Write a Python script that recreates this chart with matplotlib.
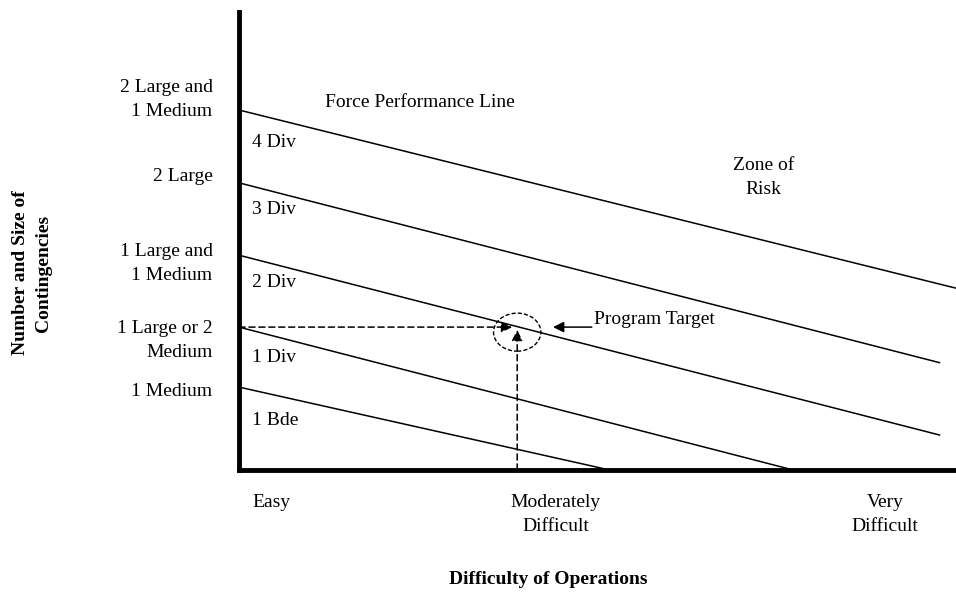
import matplotlib
matplotlib.use("Agg")
import matplotlib.pyplot as plt
from matplotlib.patches import Ellipse

plt.rcParams['font.family'] = ['Liberation Serif', 'DejaVu Serif']

# difficulty axis: 0 = left edge, 10 = right edge; capability axis 0..10
x_ticks = [0.45, 4.42, 9.01]
x_labels = ["Easy", "Moderately\nDifficult", "Very\nDifficult"]
y_ticks = [8.21, 6.46, 4.63, 2.95, 1.75]
y_labels = ["2 Large and\n1 Medium", "2 Large", "1 Large and\n1 Medium",
            "1 Large or 2\nMedium", "1 Medium"]

# force performance lines (start, end)
line_x = [[0, 10.0], [0, 9.78], [0, 9.78], [0, 7.73], [0, 5.17]]
line_y = [[7.86, 3.97], [6.27, 2.34], [4.69, 0.76], [3.12, 0.0], [1.81, 0.0]]

zone_names = ["4 Div", "3 Div", "2 Div", "1 Div", "1 Bde"]
zone_y = [7.16, 5.68, 4.10, 2.45, 1.09]

target_x, target_y = 3.88, 3.12

FS = 14
LS = 1.55

fig = plt.figure(figsize=(9.56, 5.96), dpi=100)
ax = fig.add_axes([239 / 956, 126 / 596, 1 - 239 / 956, 458 / 596])
ax.set_xlim(0, 10)
ax.set_ylim(0, 10)

for xs, ys in zip(line_x, line_y):
    ax.plot(xs, ys, color='black', lw=1.1, solid_capstyle='butt')

for name, y in zip(zone_names, zone_y):
    ax.text(0.18, y, name, fontsize=FS, va='center', ha='left')

ax.text(1.20, 8.03, "Force Performance Line", fontsize=FS, va='center', ha='left')
ax.text(7.31, 6.38, "Zone of\nRisk", fontsize=FS, va='center', ha='center',
        multialignment='center', linespacing=LS)

# program target: dashed leaders with arrows
ax.annotate('', xy=(target_x - 0.07, target_y), xytext=(0, target_y),
            arrowprops=dict(arrowstyle='-|>', ls=(0, (4, 2.5)), lw=1.1,
                            color='black', mutation_scale=16, shrinkA=0, shrinkB=0))
ax.annotate('', xy=(target_x, target_y - 0.06), xytext=(target_x, 0),
            arrowprops=dict(arrowstyle='-|>', ls=(0, (4, 2.5)), lw=1.1,
                            color='black', mutation_scale=16, shrinkA=0, shrinkB=0))
ax.add_patch(Ellipse((target_x, target_y - 0.11), 0.66, 0.83, fill=False,
                     lw=1.0, ls=(0, (3, 1.5)), color='black'))
ax.annotate('', xy=(4.38, target_y), xytext=(4.92, target_y),
            arrowprops=dict(arrowstyle='-|>', lw=1.1, color='black',
                            mutation_scale=16, shrinkA=0, shrinkB=0))
ax.text(4.95, 3.28, "Program Target", fontsize=FS, va='center', ha='left')

ax.set_xticks(x_ticks)
ax.set_xticklabels(x_labels, fontsize=FS, linespacing=LS)
ax.set_yticks(y_ticks)
ax.set_yticklabels(y_labels, fontsize=FS, linespacing=LS)
ax.tick_params(axis='x', length=0, pad=17)
ax.tick_params(axis='y', length=0, pad=19)

for side in ['top', 'right']:
    ax.spines[side].set_visible(False)
for side in ['left', 'bottom']:
    ax.spines[side].set_linewidth(3.5)
ax.spines['bottom'].set_capstyle('projecting')

fig.text(548 / 956, 1 - 580 / 596, "Difficulty of Operations", fontsize=FS,
         fontweight='bold', ha='center', va='center')
fig.text(32 / 956, 1 - 273 / 596, "Number and Size of\nContingencies", fontsize=FS,
         fontweight='bold', ha='center', va='center', rotation=90,
         multialignment='center', linespacing=1.45)

fig.savefig("out.png", dpi=100)
